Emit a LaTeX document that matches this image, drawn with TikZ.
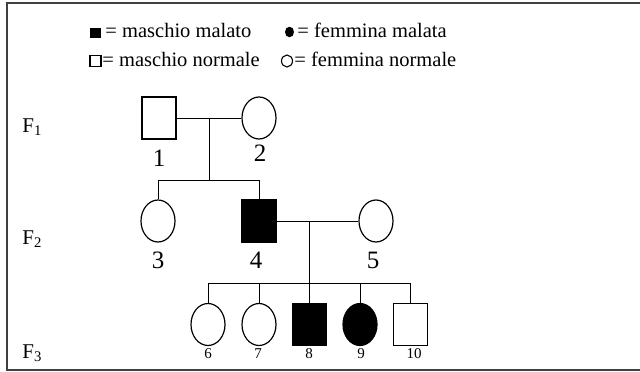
\documentclass[tikz,border=0pt]{standalone}
\usepackage{fontspec}
\setmainfont{Liberation Serif}
\usetikzlibrary{shapes.geometric}

\begin{document}
\begin{tikzpicture}[x=1pt, y=-1pt, line width=0.9pt]
	\tikzstyle{male} = [rectangle, draw, line width=1.2pt, minimum width=34pt, minimum height=42pt, inner sep=0pt]
	\tikzstyle{female} = [ellipse, draw, line width=1.2pt, minimum width=34pt, minimum height=42pt, inner sep=0pt]
	\tikzstyle{ill} = [fill=black]
	\tikzstyle{num} = [font=\fontsize{25}{25}\selectfont, inner sep=0pt, anchor=base]
	\tikzstyle{smallnum} = [font=\fontsize{15}{15}\selectfont, inner sep=0pt, anchor=base]
	\tikzstyle{gen} = [font=\fontsize{21}{21}\selectfont, inner sep=0pt, anchor=base west]
	\tikzstyle{legend} = [font=\fontsize{20.5}{20.5}\selectfont, inner sep=0pt, anchor=base west]
	\useasboundingbox (0,0) rectangle (640,372);
	\draw[line width=2pt, color=black!75] (641,3) -- (6.5,3) -- (6.5,370) -- (641,370);
	% legend
	\node[rectangle, fill=black, minimum width=11pt, minimum height=10pt, inner sep=0pt](leg-mi)at (95.5,32.5){};
	\node[legend](leg-mi-t)at (105,37){= maschio malato};
	\node[ellipse, fill=black, minimum width=9pt, minimum height=10.5pt, inner sep=0pt](leg-fi)at (289.5,32){};
	\node[legend](leg-fi-t)at (297,37){= femmina malata};
	\node[rectangle, draw, line width=1.1pt, minimum width=11pt, minimum height=11pt, inner sep=0pt](leg-mn)at (95.5,61){};
	\node[legend](leg-mn-t)at (102,66){= maschio normale};
	\node[ellipse, draw, line width=1.1pt, minimum width=11pt, minimum height=12pt, inner sep=0pt](leg-fn)at (287,61){};
	\node[legend](leg-fn-t)at (294,66){= femmina normale};
	% generations
	\node[gen](g1)at (22,132){F\textsubscript{1}};
	\node[gen](g2)at (22,244){F\textsubscript{2}};
	\node[gen](g3)at (22,358){F\textsubscript{3}};
	% F1
	\node[male](n1)at (159,118){};
	\node[female](n2)at (259,118){};
	\node[num](l1)at (159,166){1};
	\node[num](l2)at (260,161){2};
	% F2
	\node[female](n3)at (158,221){};
	\node[male,ill](n4)at (259,221){};
	\node[female](n5)at (376,221){};
	\node[num](l3)at (158,268){3};
	\node[num](l4)at (256,268){4};
	\node[num](l5)at (373,268){5};
	% F3
	\node[female](n6)at (208,324.5){};
	\node[female](n7)at (259,324.5){};
	\node[male,ill](n8)at (309.5,324.5){};
	\node[female,ill](n9)at (360,324.5){};
	\node[male](n10)at (410.5,324.5){};
	\node[smallnum](l6)at (208,358){6};
	\node[smallnum](l7)at (258,358){7};
	\node[smallnum](l8)at (309,358){8};
	\node[smallnum](l9)at (361,358){9};
	\node[smallnum](l10)at (414,358){10};
	% lines
	\coordinate (m12) at (209,118);
	\coordinate (s12) at (209,180);
	\coordinate (m45) at (309.5,221);
	\coordinate (s45) at (309.5,283);
	\draw (n1) -- (n2);
	\draw (m12) -- (s12);
	\draw (s12) -| (n3.north);
	\draw (s12) -| (n4.north);
	\draw (n4) -- (n5);
	\draw (m45) -- (n8.north);
	\draw (s45) -| (n6.north);
	\draw (s45) -| (n7.north);
	\draw (s45) -| (n9.north);
	\draw (s45) -| (n10.north);
\end{tikzpicture}
\end{document}
